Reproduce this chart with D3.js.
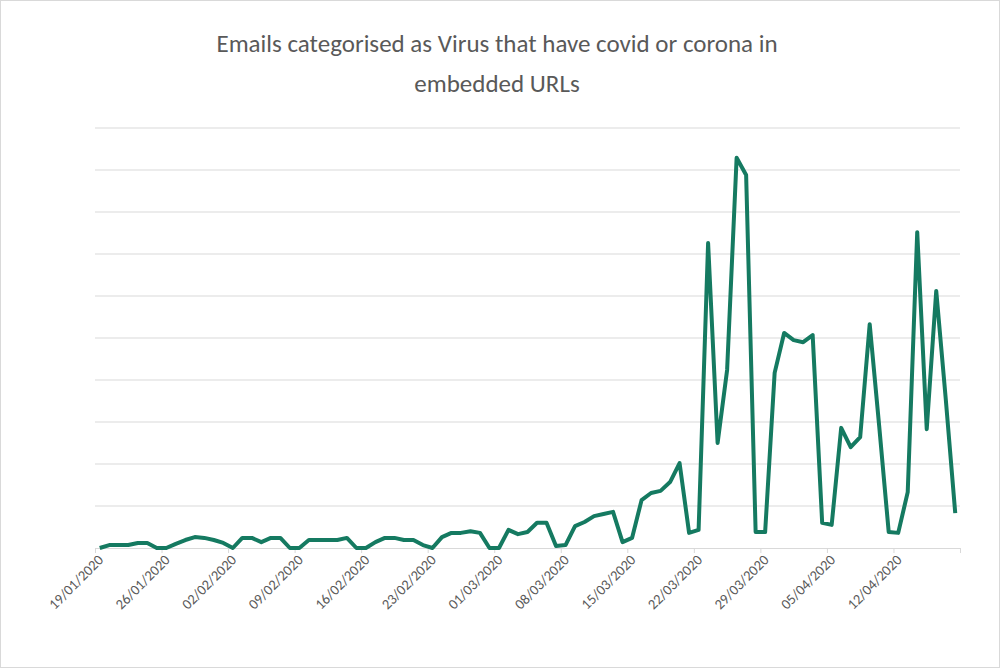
<!DOCTYPE html>
<html><head><meta charset="utf-8">
<script src="https://cdn.jsdelivr.net/npm/d3@7"></script>
<style>body{margin:0;background:#fff}svg{display:block}</style>
</head><body><svg id="c" width="1000" height="668"></svg>
<script>
const startDate = "2020-01-19";
const endDate = "2020-04-19";
const values = [0,.07,.07,.07,.12,.12,0,0,.1,.19,.26,.24,.19,.12,0,.24,.24,.14,.24,.24,0,0,.19,.19,.19,.19,.24,0,0,.14,.24,.24,.19,.19,.07,0,.26,.36,.36,.4,.36,0,0,.43,.33,.38,.6,.6,.05,.07,.52,.62,.76,.81,.86,.14,.24,1.14,1.31,1.36,1.57,2.02,.36,.43,7.26,2.5,4.24,9.29,8.88,.38,.38,4.17,5.12,4.95,4.9,5.07,.6,.55,2.86,2.4,2.64,5.33,2.9,.38,.36,1.33,7.52,2.83,6.12,3.55,.83];
const tickLabels = ["19/01/2020","26/01/2020","02/02/2020","09/02/2020","16/02/2020","23/02/2020","01/03/2020","08/03/2020","15/03/2020","22/03/2020","29/03/2020","05/04/2020","12/04/2020"];
const titleLines = ["Emails categorised as Virus that have covid or corona in","embedded URLs"];

const svg = d3.select("#c");
svg.append("rect").attr("x",0.5).attr("y",0.5).attr("width",999).attr("height",667).attr("fill","#fff").attr("stroke","#d9d9d9");
const parse = d3.utcParse("%Y-%m-%d");
const t0 = parse(startDate);
const dates = values.map((v,i)=>d3.utcHour.offset(d3.utcDay.offset(t0,i),12));
const x = d3.scaleUtc().domain([t0, parse(endDate)]).range([95,960]);
const y = d3.scaleLinear().domain([0,10]).range([548,128]);

svg.append("g").selectAll("line").data(d3.range(1,11)).join("line")
  .attr("x1",95).attr("x2",960).attr("y1",d=>y(d)).attr("y2",d=>y(d))
  .attr("stroke","#d9d9d9").attr("stroke-width",1);

const tickDates = tickLabels.map(s=>{const [d,m,yy]=s.split("/");return parse(`${yy}-${m}-${d}`);}).concat([parse(endDate)]);
const ax = svg.append("g").attr("transform","translate(0,548)")
  .call(d3.axisBottom(x).tickValues(tickDates).tickSize(5).tickFormat((d,i)=>tickLabels[i]||""));
ax.select(".domain").attr("stroke","#d9d9d9");
ax.selectAll(".tick line").attr("stroke","#d9d9d9");
ax.selectAll(".tick text").attr("fill","#595959").style("font-family","Carlito, 'Open Sans', sans-serif").style("font-size","14.5px")
  .attr("text-anchor","end").attr("transform","rotate(-45)").attr("dx","-0.2em").attr("dy","0.5em");

svg.append("path").datum(values).attr("fill","none").attr("stroke","#157a61").attr("stroke-width",4)
  .attr("stroke-linejoin","round")
  .attr("d",d3.line().x((d,i)=>x(dates[i])).y(d=>y(d)));

svg.append("g").selectAll("text").data(titleLines).join("text")
  .attr("x",497).attr("y",(d,i)=>52+i*40).attr("text-anchor","middle")
  .attr("fill","#595959").style("font-family","Carlito, 'Open Sans', sans-serif").style("font-size","25px").text(d=>d);
</script></body></html>
